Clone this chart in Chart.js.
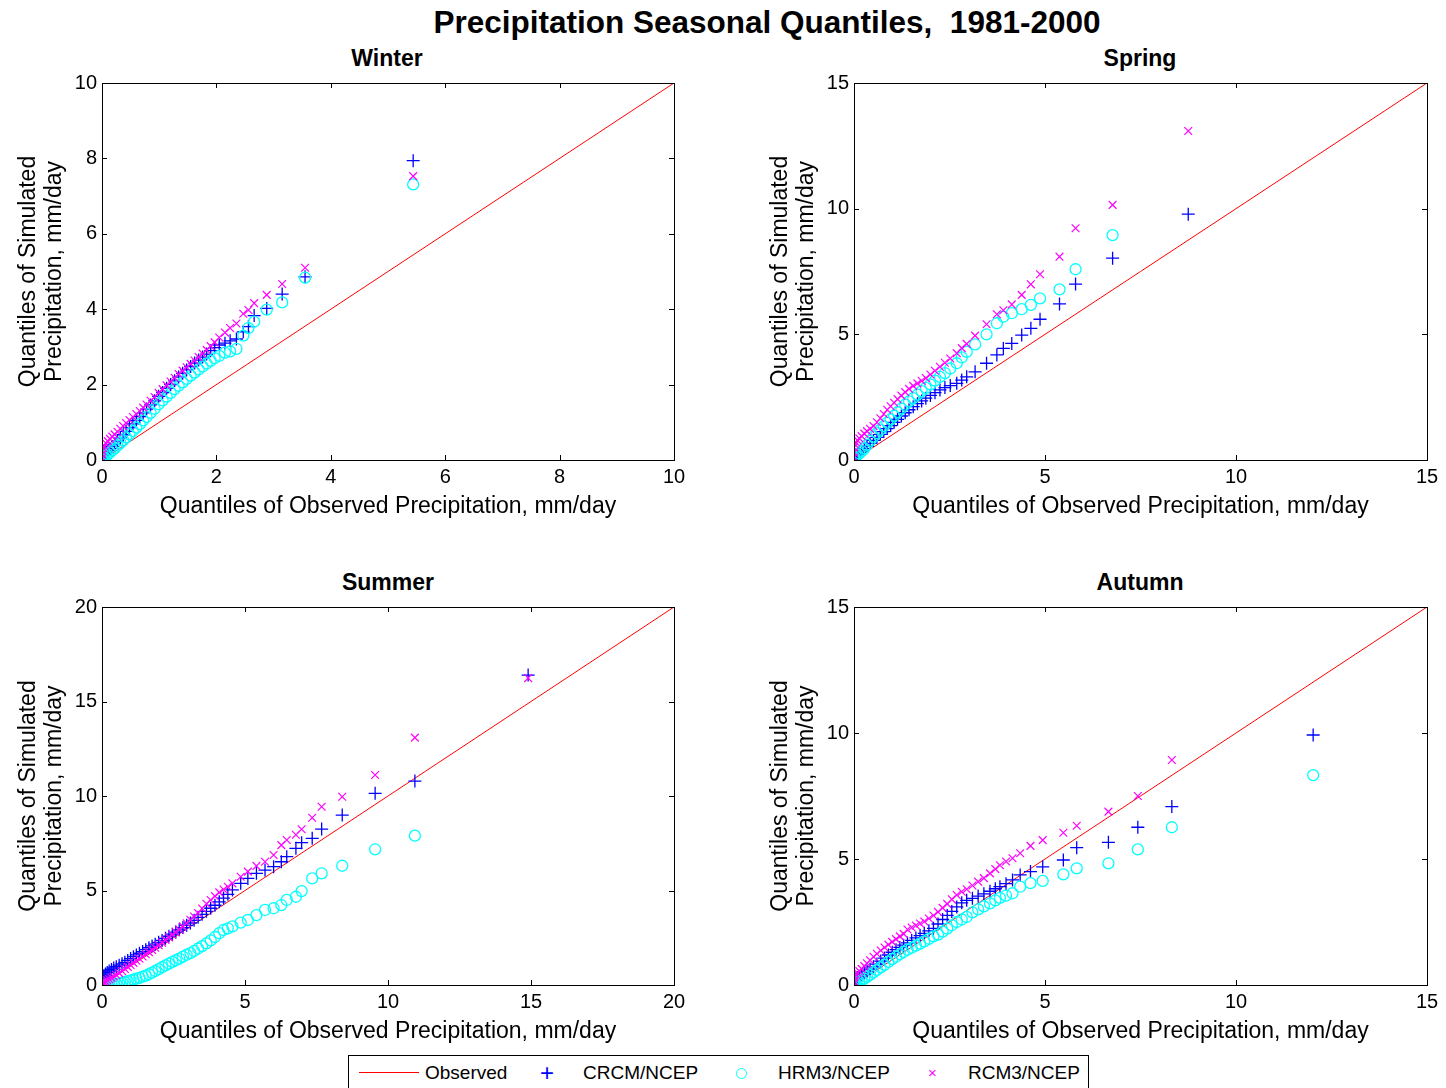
<!DOCTYPE html>
<html>
<head>
<meta charset="utf-8">
<title>Precipitation Seasonal Quantiles, 1981-2000</title>
<script src="https://cdn.jsdelivr.net/npm/chart.js@4.4.1/dist/chart.umd.min.js"></script>
<style>
body { margin: 0; background: #fff; font-family: "Liberation Sans", Arial, sans-serif; color: #000; }
#page { position: relative; width: 1446px; height: 1088px; overflow: hidden; background: #fff; }
canvas { position: absolute; }
.ttl { position: absolute; font-weight: bold; white-space: nowrap; transform: translate(-50%, -50%); }
#legend { position: absolute; left: 348px; top: 1055px; width: 739px; height: 40px; border: 1px solid #000; background: #fff; font-size: 19px; z-index: 5; }
#legend span { position: absolute; top: 0; line-height: 34px; white-space: nowrap; }
#legend .line { position: absolute; left: 10px; top: 16px; width: 60px; border-top: 1px solid #ff0000; }
#legend .ring { position: absolute; left: 387px; top: 12px; width: 9px; height: 9px; border: 1px solid #00ffff; border-radius: 50%; }
</style>
</head>
<body>
<div id="page">
  <div class="ttl" style="left:767px; top:22px; font-size:31.5px;">Precipitation Seasonal Quantiles,&nbsp; 1981-2000</div>
  <div class="ttl" style="left:387px; top:58px; font-size:23px;">Winter</div>
  <div class="ttl" style="left:1140px; top:58px; font-size:23px;">Spring</div>
  <div class="ttl" style="left:388px; top:582px; font-size:23px;">Summer</div>
  <div class="ttl" style="left:1140px; top:582px; font-size:23px;">Autumn</div>

  <canvas id="winter" width="700" height="474" style="left:0; top:66px;"></canvas>
  <canvas id="spring" width="694" height="474" style="left:752px; top:66px;"></canvas>
  <canvas id="summer" width="700" height="462" style="left:0; top:590px;"></canvas>
  <canvas id="autumn" width="694" height="462" style="left:752px; top:590px;"></canvas>

  <div id="legend">
    <div class="line"></div>
    <span style="left:76px;">Observed</span>
    <span style="left:191px; color:#0000ff; font-size:24px;">+</span>
    <span style="left:234px;">CRCM/NCEP</span>
    <div class="ring"></div>
    <span style="left:429px;">HRM3/NCEP</span>
    <span style="left:579px; color:#ff00ff; font-size:15px;">&#215;</span>
    <span style="left:619px;">RCM3/NCEP</span>
  </div>
</div>

<script>
// observed quantiles (x) and model quantiles (y), mm/day
var winterObs  = [0,0,0,0.02,0.04,0.07,0.1,0.14,0.18,0.22,0.27,0.32,0.37,0.42,0.48,0.54,0.6,0.66,0.72,0.78,0.85,0.92,0.99,1.06,1.13,1.2,1.27,1.34,1.41,1.48,1.55,1.62,1.69,1.76,1.83,1.9,1.97,2.05,2.15,2.24,2.35,2.47,2.56,2.66,2.88,3.15,3.55,5.44];
var winterCRCM = [0.02,0.06,0.1,0.13,0.17,0.21,0.25,0.3,0.36,0.42,0.5,0.58,0.67,0.76,0.86,0.96,1.05,1.15,1.25,1.35,1.46,1.57,1.69,1.79,1.9,2.0,2.1,2.2,2.3,2.39,2.48,2.57,2.65,2.73,2.81,2.9,2.98,3.05,3.1,3.16,3.21,3.4,3.54,3.83,4.02,4.4,4.86,7.94];
var winterHRM3 = [0,0.02,0.04,0.06,0.08,0.11,0.15,0.2,0.26,0.31,0.38,0.45,0.52,0.6,0.68,0.77,0.86,0.95,1.05,1.14,1.25,1.36,1.48,1.58,1.68,1.78,1.88,1.97,2.06,2.15,2.24,2.32,2.4,2.48,2.56,2.63,2.7,2.76,2.85,2.88,2.95,3.3,3.5,3.67,3.99,4.18,4.84,7.31];
var winterRCM3 = [0.05,0.15,0.25,0.32,0.38,0.44,0.5,0.56,0.62,0.68,0.75,0.83,0.9,0.98,1.06,1.14,1.22,1.3,1.39,1.47,1.57,1.67,1.78,1.88,1.98,2.08,2.18,2.28,2.37,2.46,2.55,2.64,2.73,2.82,2.92,3.02,3.12,3.25,3.38,3.5,3.62,3.88,3.98,4.16,4.38,4.67,5.1,7.53];

var springObs  = [0,0,0,0.02,0.05,0.09,0.14,0.2,0.27,0.34,0.42,0.51,0.6,0.69,0.78,0.87,0.96,1.05,1.14,1.24,1.34,1.44,1.55,1.66,1.77,1.88,2.0,2.12,2.25,2.38,2.52,2.69,2.82,2.95,3.17,3.47,3.74,3.91,4.13,4.39,4.63,4.87,5.38,5.8,6.77,8.75];
var springCRCM = [0,0.05,0.1,0.14,0.18,0.22,0.28,0.36,0.45,0.55,0.66,0.78,0.9,1.02,1.13,1.25,1.37,1.5,1.62,1.75,1.88,2.0,2.12,2.24,2.35,2.46,2.57,2.68,2.79,2.88,2.96,3.05,3.18,3.31,3.51,3.85,4.18,4.44,4.64,4.97,5.24,5.6,6.21,7.0,8.03,9.78];
var springHRM3 = [0,0.03,0.07,0.1,0.15,0.2,0.26,0.35,0.46,0.6,0.76,0.93,1.07,1.21,1.35,1.49,1.62,1.76,1.9,2.05,2.2,2.33,2.46,2.6,2.74,2.87,3.01,3.16,3.31,3.46,3.64,3.85,4.08,4.3,4.6,5.0,5.44,5.7,5.84,6.0,6.17,6.43,6.79,7.59,8.95,null];
var springRCM3 = [0.1,0.3,0.5,0.62,0.7,0.78,0.86,0.95,1.05,1.15,1.24,1.35,1.5,1.66,1.83,2.0,2.14,2.28,2.42,2.56,2.7,2.83,2.95,3.05,3.15,3.26,3.4,3.55,3.71,3.87,4.04,4.25,4.45,4.62,4.95,5.4,5.8,5.96,6.19,6.57,6.99,7.39,8.09,9.22,10.15,13.09];

var summerObs  = [0,0,0,0.03,0.07,0.12,0.18,0.25,0.33,0.41,0.5,0.6,0.7,0.8,0.9,1.0,1.1,1.2,1.31,1.42,1.53,1.64,1.75,1.86,1.98,2.1,2.22,2.34,2.46,2.58,2.7,2.83,2.96,3.09,3.22,3.36,3.5,3.65,3.8,3.95,4.1,4.25,4.4,4.56,4.85,5.1,5.4,5.7,6.0,6.27,6.46,6.78,6.98,7.35,7.68,8.4,9.55,10.94,14.9];
var summerCRCM = [0.1,0.25,0.35,0.42,0.5,0.58,0.66,0.74,0.82,0.9,0.97,1.05,1.12,1.2,1.3,1.4,1.5,1.59,1.68,1.77,1.87,1.97,2.07,2.16,2.26,2.36,2.47,2.58,2.69,2.8,2.92,3.04,3.16,3.28,3.42,3.58,3.74,3.9,4.06,4.22,4.4,4.6,4.8,5.03,5.38,5.64,5.91,6.08,6.26,6.52,6.79,7.23,7.53,7.76,8.25,8.99,10.14,10.79,16.4];
var summerHRM3 = [0,0,0,0,0,0,0,0.01,0.02,0.04,0.06,0.09,0.12,0.16,0.2,0.24,0.28,0.33,0.38,0.44,0.5,0.57,0.65,0.74,0.84,0.94,1.04,1.13,1.22,1.31,1.4,1.5,1.6,1.69,1.8,1.93,2.06,2.2,2.36,2.54,2.74,2.91,3.0,3.1,3.3,3.44,3.7,3.97,4.06,4.23,4.5,4.67,4.97,5.64,5.91,6.31,7.18,7.9,null];
var summerRCM3 = [0,0.05,0.1,0.13,0.16,0.2,0.25,0.31,0.38,0.45,0.53,0.63,0.74,0.85,0.96,1.06,1.17,1.28,1.39,1.51,1.63,1.74,1.86,1.97,2.1,2.24,2.38,2.52,2.66,2.8,2.94,3.1,3.27,3.45,3.62,3.8,4.05,4.3,4.5,4.7,4.9,5.05,5.2,5.38,5.73,6.0,6.3,6.52,6.88,7.4,7.67,7.95,8.24,8.85,9.43,9.96,11.11,13.09,16.24];

var autumnObs  = [0,0,0,0.02,0.05,0.09,0.14,0.2,0.27,0.34,0.42,0.51,0.6,0.7,0.8,0.9,1.0,1.1,1.2,1.3,1.4,1.51,1.62,1.73,1.84,1.96,2.08,2.2,2.32,2.44,2.56,2.69,2.82,2.95,3.1,3.25,3.4,3.56,3.7,3.82,3.98,4.15,4.35,4.62,4.94,5.48,5.83,6.66,7.43,8.32,12.02];
var autumnCRCM = [0,0.08,0.15,0.2,0.25,0.3,0.35,0.41,0.48,0.55,0.63,0.72,0.83,0.95,1.07,1.19,1.3,1.4,1.49,1.58,1.67,1.77,1.87,1.96,2.05,2.15,2.25,2.42,2.6,2.76,2.92,3.1,3.26,3.36,3.44,3.53,3.62,3.72,3.82,3.9,4.02,4.17,4.37,4.5,4.69,4.96,5.45,5.66,6.26,7.08,9.92];
var autumnHRM3 = [0,0,0.02,0.04,0.06,0.09,0.13,0.18,0.25,0.32,0.4,0.5,0.6,0.7,0.8,0.92,1.03,1.12,1.22,1.31,1.4,1.48,1.56,1.64,1.73,1.83,1.93,2.0,2.12,2.24,2.37,2.5,2.6,2.7,2.88,3.0,3.12,3.24,3.36,3.46,3.55,3.64,3.9,4.04,4.13,4.39,4.63,4.83,5.38,6.26,8.33];
var autumnRCM3 = [0.05,0.15,0.3,0.36,0.42,0.48,0.55,0.64,0.75,0.86,0.98,1.12,1.24,1.37,1.49,1.6,1.71,1.82,1.93,2.03,2.2,2.28,2.36,2.44,2.52,2.64,2.76,2.9,3.06,3.22,3.4,3.57,3.7,3.8,3.95,4.1,4.24,4.43,4.6,4.75,4.9,5.03,5.23,5.52,5.75,6.04,6.32,6.88,7.5,8.93,null];

// axis range [max, tick step] for each season
var winterAxis = [10, 2];
var springAxis = [15, 5];
var summerAxis = [20, 5];
var autumnAxis = [15, 5];

var FONT = '"Liberation Sans", Arial, sans-serif';

function pairs(xs, ys) {
    var out = [];
    for (var i = 0; i < xs.length; i++) {
        out.push({x: xs[i], y: ys[i]});
    }
    return out;
}

// matlab style axes: closed box with ticks pointing inwards on all sides
var boxPlugin = {
    id: 'boxTicks',
    afterDraw: function(chart) {
        var ctx = chart.ctx, a = chart.chartArea;
        var xs = chart.scales.x, ys = chart.scales.y;
        var len = 5;
        ctx.save();
        ctx.strokeStyle = '#000';
        ctx.lineWidth = 1;
        ctx.beginPath();
        xs.ticks.forEach(function(t) {
            var px = Math.round(xs.getPixelForValue(t.value)) + 0.5;
            ctx.moveTo(px, a.bottom); ctx.lineTo(px, a.bottom - len);
            ctx.moveTo(px, a.top); ctx.lineTo(px, a.top + len);
        });
        ys.ticks.forEach(function(t) {
            var py = Math.round(ys.getPixelForValue(t.value)) + 0.5;
            ctx.moveTo(a.left, py); ctx.lineTo(a.left + len, py);
            ctx.moveTo(a.right, py); ctx.lineTo(a.right - len, py);
        });
        ctx.stroke();
        ctx.strokeRect(Math.round(a.left) + 0.5, Math.round(a.top) + 0.5,
                       Math.round(a.right - a.left), Math.round(a.bottom - a.top));
        ctx.restore();
    }
};

function makeChart(id, obs, crcm, hrm3, rcm3, axis, frame) {
    var ctx = document.getElementById(id).getContext('2d');
    var max = axis[0], step = axis[1];
    return new Chart(ctx, {
        type: 'scatter',
        data: {
            datasets: [
                {
                    label: 'Observed',
                    data: [{x: 0, y: 0}, {x: max, y: max}],
                    showLine: true,
                    borderColor: '#ff0000',
                    borderWidth: 1,
                    pointRadius: 0,
                    order: 4
                },
                {
                    label: 'CRCM/NCEP',
                    data: pairs(obs, crcm),
                    pointStyle: 'cross',
                    pointRadius: 6.5,
                    borderColor: '#0000ff',
                    borderWidth: 1.3,
                    order: 3
                },
                {
                    label: 'HRM3/NCEP',
                    data: pairs(obs, hrm3),
                    pointStyle: 'circle',
                    pointRadius: 5.5,
                    backgroundColor: 'rgba(0,0,0,0)',
                    borderColor: '#00ffff',
                    borderWidth: 1.3,
                    order: 2
                },
                {
                    label: 'RCM3/NCEP',
                    data: pairs(obs, rcm3),
                    pointStyle: 'crossRot',
                    pointRadius: 5.5,
                    borderColor: '#ff00ff',
                    borderWidth: 1.2,
                    order: 1
                }
            ]
        },
        options: {
            responsive: false,
            animation: false,
            events: [],
            layout: {
                padding: {left: 0, top: 13, right: frame.padRight, bottom: 0}
            },
            plugins: {
                legend: {display: false},
                tooltip: {enabled: false}
            },
            scales: {
                x: {
                    type: 'linear',
                    min: 0,
                    max: max,
                    grid: {display: false, drawTicks: false},
                    border: {display: false},
                    ticks: {stepSize: step, padding: 5, color: '#000', font: {family: FONT, size: 20}},
                    title: {
                        display: true,
                        text: 'Quantiles of Observed Precipitation, mm/day',
                        color: '#000',
                        font: {family: FONT, size: 23, lineHeight: '26px'},
                        padding: {top: 0, bottom: frame.titlePad}
                    },
                    afterFit: function(scale) { scale.height = frame.xHeight; }
                },
                y: {
                    type: 'linear',
                    min: 0,
                    max: max,
                    grid: {display: false, drawTicks: false},
                    border: {display: false},
                    ticks: {stepSize: step, padding: 5, color: '#000', font: {family: FONT, size: 20}},
                    title: {
                        display: true,
                        text: ['Quantiles of Simulated', 'Precipitation, mm/day'],
                        color: '#000',
                        font: {family: FONT, size: 23, lineHeight: '26px'},
                        padding: {top: 16, bottom: 0}
                    },
                    afterFit: function(scale) { scale.width = 102; }
                }
            }
        },
        plugins: [boxPlugin]
    });
}

makeChart('winter', winterObs, winterCRCM, winterHRM3, winterRCM3, winterAxis,
          {padRight: 26, xHeight: 80, titlePad: 20});
makeChart('spring', springObs, springCRCM, springHRM3, springRCM3, springAxis,
          {padRight: 19, xHeight: 80, titlePad: 20});
makeChart('summer', summerObs, summerCRCM, summerHRM3, summerRCM3, summerAxis,
          {padRight: 26, xHeight: 67, titlePad: 7});
makeChart('autumn', autumnObs, autumnCRCM, autumnHRM3, autumnRCM3, autumnAxis,
          {padRight: 19, xHeight: 67, titlePad: 7});
</script>
</body>
</html>
